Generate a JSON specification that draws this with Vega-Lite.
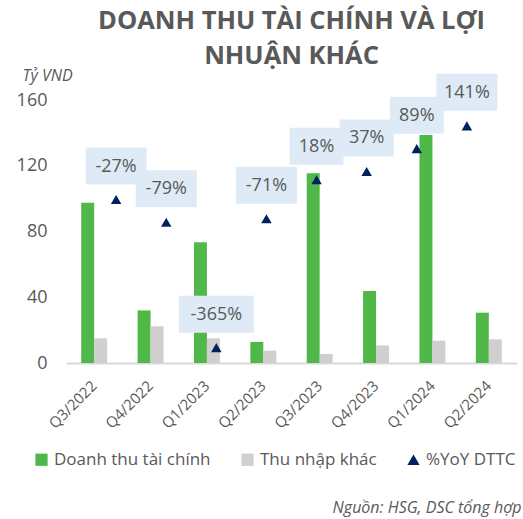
{
  "$schema": "https://vega.github.io/schema/vega-lite/v6.json",
  "width": 451,
  "height": 263,
  "autosize": "none",
  "padding": {"left": 66, "top": 100, "right": 6, "bottom": 156},
  "background": "white",
  "config": {"font": "Open Sans", "view": {"stroke": null}},
  "title": {
    "text": ["DOANH THU TÀI CHÍNH VÀ LỢI", "NHUẬN KHÁC"],
    "fontSize": 25.5,
    "fontWeight": "bold",
    "color": "#595959",
    "font": "Open Sans",
    "anchor": "middle",
    "lineHeight": 35,
    "offset": -2
  },
  "datasets": {
    "bars": [
      {"quarter": "Q3/2022", "series": "Doanh thu tài chính", "value": 97.5},
      {"quarter": "Q3/2022", "series": "Thu nhập khác", "value": 15},
      {"quarter": "Q4/2022", "series": "Doanh thu tài chính", "value": 32},
      {"quarter": "Q4/2022", "series": "Thu nhập khác", "value": 22.3},
      {"quarter": "Q1/2023", "series": "Doanh thu tài chính", "value": 73.4},
      {"quarter": "Q1/2023", "series": "Thu nhập khác", "value": 15},
      {"quarter": "Q2/2023", "series": "Doanh thu tài chính", "value": 12.8},
      {"quarter": "Q2/2023", "series": "Thu nhập khác", "value": 7.5},
      {"quarter": "Q3/2023", "series": "Doanh thu tài chính", "value": 115.4},
      {"quarter": "Q3/2023", "series": "Thu nhập khác", "value": 5.5},
      {"quarter": "Q4/2023", "series": "Doanh thu tài chính", "value": 43.8},
      {"quarter": "Q4/2023", "series": "Thu nhập khác", "value": 10.7},
      {"quarter": "Q1/2024", "series": "Doanh thu tài chính", "value": 138.7},
      {"quarter": "Q1/2024", "series": "Thu nhập khác", "value": 13.6},
      {"quarter": "Q2/2024", "series": "Doanh thu tài chính", "value": 30.6},
      {"quarter": "Q2/2024", "series": "Thu nhập khác", "value": 14.4}
    ],
    "yoy": [
      {"quarter": "Q3/2022", "series": "%YoY DTTC", "yoy": -27, "label": "-27%"},
      {"quarter": "Q4/2022", "series": "%YoY DTTC", "yoy": -79, "label": "-79%"},
      {"quarter": "Q1/2023", "series": "%YoY DTTC", "yoy": -365, "label": "-365%"},
      {"quarter": "Q2/2023", "series": "%YoY DTTC", "yoy": -71, "label": "-71%"},
      {"quarter": "Q3/2023", "series": "%YoY DTTC", "yoy": 18, "label": "18%"},
      {"quarter": "Q4/2023", "series": "%YoY DTTC", "yoy": 37, "label": "37%"},
      {"quarter": "Q1/2024", "series": "%YoY DTTC", "yoy": 89, "label": "89%"},
      {"quarter": "Q2/2024", "series": "%YoY DTTC", "yoy": 141, "label": "141%"}
    ]
  },
  "resolve": {"scale": {"x": "independent", "y": "independent"}},
  "layer": [
    {
      "data": {"name": "bars"},
      "mark": {"type": "bar"},
      "encoding": {
        "x": {
          "field": "quarter", "type": "nominal", "sort": null,
          "scale": {"paddingInner": 0.54, "paddingOuter": 0.27},
          "axis": {
            "labelAngle": -45, "labelAlign": "right", "labelBaseline": "middle",
            "labelFontSize": 15, "labelColor": "#595959", "labelPadding": 20,
            "ticks": false, "domainColor": "#D9D9D9", "domainWidth": 2,
            "title": "Nguồn: HSG, DSC tổng hợp",
            "titleFontStyle": "italic", "titleFontWeight": "normal", "titleFontSize": 16,
            "titleColor": "#595959", "titleAlign": "right", "titleAnchor": null,
            "titleX": 455, "titleY": 144, "titleBaseline": "middle"
          }
        },
        "xOffset": {
          "field": "series", "type": "nominal", "sort": null,
          "scale": {"domain": ["Doanh thu tài chính", "Thu nhập khác"], "paddingInner": 0, "paddingOuter": 0}
        },
        "y": {
          "field": "value", "type": "quantitative",
          "scale": {"domain": [0, 160]},
          "axis": {
            "values": [0, 40, 80, 120, 160], "grid": false, "ticks": false, "domain": false,
            "labelFontSize": 18, "labelColor": "#595959", "labelPadding": 19,
            "title": "Tỷ VND", "titleAngle": 0, "titleAlign": "left", "titleBaseline": "middle",
            "titleX": -44, "titleY": -25, "titleFontStyle": "italic", "titleFontWeight": "normal",
            "titleFontSize": 16, "titleColor": "#595959"
          }
        },
        "color": {
          "field": "series", "type": "nominal",
          "scale": {
            "domain": ["Doanh thu tài chính", "Thu nhập khác", "%YoY DTTC"],
            "range": ["#50B848", "#D0CECE", "#002060"]
          },
          "legend": {
            "orient": "none", "legendX": -33, "legendY": 351, "direction": "horizontal",
            "title": null, "labelFontSize": 17, "labelColor": "#595959",
            "symbolSize": 150, "columnPadding": 28, "labelOffset": 4, "symbolStrokeWidth": 0
          }
        }
      }
    },
    {
      "data": {"name": "yoy"},
      "encoding": {
        "x": {"field": "quarter", "type": "nominal", "sort": null, "scale": {"type": "point", "padding": 1}, "axis": null},
        "y": {"field": "yoy", "type": "quantitative", "scale": {"domain": [-400, 200]}, "axis": null}
      },
      "layer": [
        {
          "mark": {"type": "bar", "yOffset": -52, "y2Offset": -15, "color": "#DEEBF7"},
          "encoding": {
            "y2": {"field": "yoy"},
            "size": {
              "condition": [
                {"test": "length(datum.label) == 5", "value": 75},
                {"test": "length(datum.label) == 4", "value": 61}
              ],
              "value": 54
            }
          }
        },
        {
          "mark": {"type": "point", "filled": true, "size": 110, "opacity": 1},
          "encoding": {
            "color": {"field": "series", "type": "nominal"},
            "shape": {
              "field": "series", "type": "nominal",
              "scale": {
                "domain": ["Doanh thu tài chính", "Thu nhập khác", "%YoY DTTC"],
                "range": ["square", "square", "triangle-up"]
              },
              "legend": {
                "orient": "none", "legendX": -33, "legendY": 351, "direction": "horizontal",
                "title": null, "labelFontSize": 17, "labelColor": "#595959",
                "symbolSize": 150, "columnPadding": 28, "labelOffset": 4, "symbolStrokeWidth": 0
              }
            }
          }
        },
        {
          "mark": {"type": "text", "dy": -33, "fontSize": 18, "color": "#595959", "baseline": "middle"},
          "encoding": {"text": {"field": "label"}}
        }
      ]
    }
  ]
}
